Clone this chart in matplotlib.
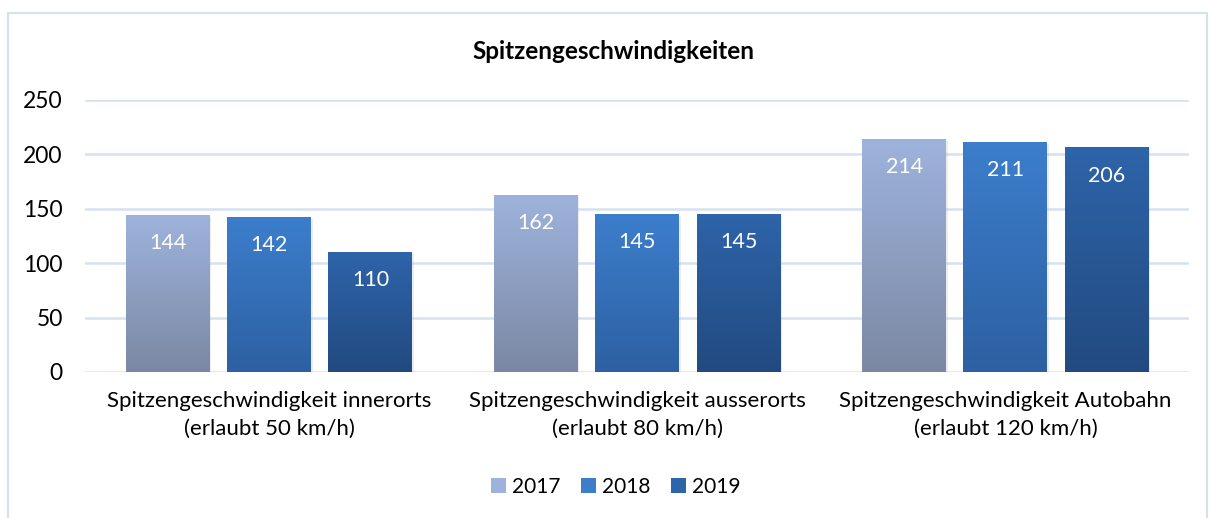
import numpy as np
import matplotlib.pyplot as plt
from matplotlib.colors import LinearSegmentedColormap
from matplotlib.patches import Rectangle

categories = ["Spitzengeschwindigkeit innerorts\n(erlaubt 50 km/h)",
              "Spitzengeschwindigkeit ausserorts\n(erlaubt 80 km/h)",
              "Spitzengeschwindigkeit Autobahn\n(erlaubt 120 km/h)"]
years = ["2017", "2018", "2019"]
v2017 = [144, 162, 214]
v2018 = [142, 145, 211]
v2019 = [110, 145, 206]

# top colour, bottom colour per series
grads = [("#9EB3DC", "#7B88A3"), ("#3C7ECC", "#2D60A2"), ("#2E64A9", "#224A80")]

plt.rcParams['font.family'] = ['Lato', 'DejaVu Sans']

fig = plt.figure(figsize=(12.15, 5.18), dpi=100)
ax = fig.add_axes([0.07, 0.282, 0.909, 0.525])

fig.patches.append(Rectangle((8 / 1215, -0.1), 1199 / 1215, 1 - 13 / 518 + 0.1,
                             transform=fig.transFigure, fill=False,
                             edgecolor="#D6E1F0", linewidth=1.5))

x = np.arange(len(categories))
width = 0.228
step = 0.275
series = [v2017, v2018, v2019]

for i, vals in enumerate(series):
    cmap = LinearSegmentedColormap.from_list(f"g{i}", [grads[i][1], grads[i][0]])
    grad = np.linspace(0, 1, 256).reshape(-1, 1)
    for j, v in enumerate(vals):
        xc = x[j] + (i - 1) * step
        x0, x1 = xc - width / 2, xc + width / 2
        # soft shadow
        ax.add_patch(Rectangle((x0 + 0.004, -1.5), width, v, facecolor="#B0B0B0",
                               alpha=0.22, edgecolor="none", zorder=2))
        ax.imshow(grad, extent=[x0, x1, 0, v], origin="lower", aspect="auto",
                  cmap=cmap, zorder=3)
        ax.annotate(str(v), (xc, v), xytext=(0, -20), textcoords="offset points",
                    ha="center", va="center", color="white", fontsize=15.5, zorder=4)

ax.set_xlim(-0.5, 2.5)
ax.set_ylim(0, 250)
ax.set_yticks([0, 50, 100, 150, 200, 250])
ax.set_xticks(x)
ax.set_xticklabels(categories, fontsize=16, linespacing=1.45)
ax.tick_params(axis="both", length=0, colors="#000000")
ax.tick_params(axis="y", labelsize=16.5, pad=16)
ax.tick_params(axis="x", pad=14)
ax.grid(axis="y", color="#D6E1F0", linewidth=1.8, zorder=0)
ax.set_axisbelow(True)
for s in ax.spines.values():
    s.set_visible(False)

fig.text(0.505, 0.9, "Spitzengeschwindigkeiten", ha="center", va="center",
         fontsize=17.5, fontweight="bold")

# legend squares
handles = []
for i in range(3):
    handles.append(Rectangle((0, 0), 1, 1, facecolor=grads[i][0], edgecolor="none"))
fig.legend(handles, years, loc="center", bbox_to_anchor=(0.507, 0.06), ncol=3,
           frameon=False, fontsize=15, handlelength=0.7, handleheight=0.7,
           handletextpad=0.3, columnspacing=1.0)

fig.savefig("out.png", dpi=100)
